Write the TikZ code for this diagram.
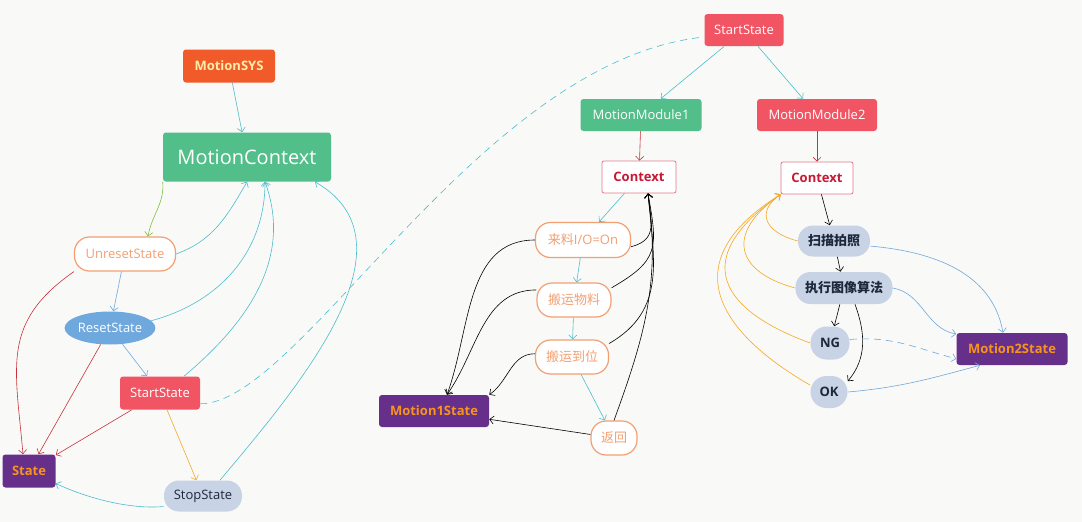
\documentclass[tikz,border=0pt]{standalone}
\usepackage{fontspec}
\setmainfont{Open Sans}
\newfontfamily\cjk{Noto Sans CJK SC}
\usepackage{tikz}
\usetikzlibrary{%
  shapes.geometric,%
  arrows.meta%
}
\definecolor{cBg}{RGB}{249,249,247}
\definecolor{cSys}{RGB}{241,90,41}
\definecolor{cSysText}{RGB}{255,238,170}
\definecolor{cGreen}{RGB}{82,190,138}
\definecolor{cRed}{RGB}{241,85,100}
\definecolor{cPurple}{RGB}{102,48,138}
\definecolor{cOrange}{RGB}{247,148,29}
\definecolor{cPeach}{RGB}{242,160,115}
\definecolor{cPink}{RGB}{226,120,135}
\definecolor{cCrimson}{RGB}{200,24,50}
\definecolor{cGray}{RGB}{200,211,230}
\definecolor{cInk}{RGB}{30,40,60}
\definecolor{cBlue}{RGB}{111,168,220}
\definecolor{lCyan}{RGB}{75,190,205}
\definecolor{lGreen}{RGB}{125,194,66}
\definecolor{lRed}{RGB}{200,50,60}
\definecolor{lOrange}{RGB}{247,168,35}
\definecolor{lBlue}{RGB}{111,168,220}

\begin{document}
\begin{tikzpicture}[x=1pt,y=1pt,line width=0.6pt,
  >={Straight Barb[length=4pt,width=8pt]},
  every node/.style={inner sep=0pt,font=\fontsize{13}{15}\selectfont},
  box/.style={rectangle,rounded corners=3pt,minimum height=32pt},
  redbox/.style={box,fill=cRed,text=white},
  greenbox/.style={box,fill=cGreen,text=white},
  purplebox/.style={box,fill=cPurple,text=cOrange,
    font=\fontsize{13}{15}\selectfont\bfseries},
  ctxbox/.style={box,rounded corners=2pt,draw=cPink,fill=white,text=cCrimson,
    line width=0.8pt,font=\fontsize{13}{15}\selectfont\bfseries},
  orangepill/.style={rectangle,rounded corners=15pt,draw=cPeach,fill=white,
    text=cPeach,line width=1.2pt,minimum height=34pt},
  graypill/.style={rectangle,rounded corners=15pt,fill=cGray,text=cInk,
    minimum height=32pt,font=\fontsize{13}{15}\selectfont\bfseries},
  dashline/.style={dash pattern=on 7pt off 5pt}
]
\useasboundingbox (0,0) rectangle (1082,-522);
\fill[cBg] (0,0) rectangle (1082,-522);

% left part
\node[box,fill=cSys,text=cSysText,minimum width=92pt,minimum height=33pt,
  font=\fontsize{13}{15}\selectfont\bfseries] (sys) at (229,-66) {MotionSYS};
\node[greenbox,minimum width=168pt,minimum height=49pt,
  font=\fontsize{20}{24}\selectfont] (ctx) at (247,-157) {MotionContext};
\node[orangepill,minimum width=101pt] (uns) at (125,-254) {UnresetState};
\node[ellipse,fill=cBlue,text=white,minimum width=85pt,minimum height=33pt]
  (rst) at (110,-328) {ResetState};
\node[redbox,minimum width=80pt,minimum height=33pt] (sl) at (160,-393) {StartState};
\node[purplebox,minimum width=53pt,minimum height=33pt] (st) at (29,-471) {State};
\node[graypill,minimum width=78pt,minimum height=31pt,
  font=\fontsize{13}{15}\selectfont] (stop) at (203,-496) {StopState};

% middle part
\node[redbox,minimum width=79pt] (ts) at (744,-30) {StartState};
\node[greenbox,minimum width=121pt] (mm1) at (641,-115) {MotionModule1};
\node[redbox,minimum width=120pt] (mm2) at (817,-115) {MotionModule2};
\node[ctxbox,minimum width=74pt] (c1) at (639,-177) {Context};
\node[ctxbox,minimum width=72pt] (c2) at (817,-178) {Context};
\node[orangepill,minimum width=95pt,minimum height=35pt] (lai) at (583,-240)
  {{\cjk 来料}I/O=On};
\node[orangepill,minimum width=74pt] (by) at (574,-300) {\cjk 搬运物料};
\node[orangepill,minimum width=73pt] (dw) at (572,-357) {\cjk 搬运到位};
\node[orangepill,minimum width=46pt] (fh) at (614,-438) {\cjk 返回};
\node[purplebox,minimum width=110pt] (m1) at (434,-411) {Motion1State};

% right part
\node[graypill,minimum width=72pt,minimum height=31pt] (scan) at (834,-241)
  {\cjk\bfseries 扫描拍照};
\node[graypill,minimum width=97pt] (algo) at (844,-288) {\cjk\bfseries 执行图像算法};
\node[graypill,minimum width=39pt,minimum height=33pt,rounded corners=16pt]
  (ng) at (830,-343) {NG};
\node[graypill,minimum width=37pt,rounded corners=16pt] (ok) at (829,-392) {OK};
\node[purplebox,minimum width=111pt] (m2) at (1012,-349) {Motion2State};

\path[->,lCyan] (sys) edge (ctx)
          (uns.east) edge[out=20,in=-120] (ctx.south)
          (rst.10) edge[out=15,in=-90] ([xshift=18pt]ctx.south)
          ([xshift=24pt]sl.north) edge[out=40,in=-70] ([xshift=18pt]ctx.south)
          ([xshift=17pt]stop.north) edge[out=50,in=-30] ([xshift=68pt]ctx.south)
          (stop.195) edge[out=185,in=-25,looseness=0.8] (st.-25)
          (ts) edge (mm1)
          (ts) edge (mm2)
          (c1) edge (lai)
          (lai) edge (by)
          (by) edge (dw)
          (dw) edge (fh)
;
\path[->,lGreen] (ctx.south west) edge[out=-85,in=80] ([xshift=23pt]uns.north);
\path[->,lBlue] (uns) edge (rst)
          (rst) edge (sl)
;
\path[->,lRed] (uns.south west) edge[out=215,in=95,looseness=1.2] ([xshift=-6pt]st.north)
          (rst) edge (st)
          (sl) edge (st)
          (mm1) edge (c1)
          (mm2) edge (c2)
;
\path[->,lOrange] (sl) edge (stop);
\draw[lCyan,dashline] (sl.-15) .. controls +(100,0) and +(-225,-23) .. (ts.190);

% module 1
\path[->,black] (lai.-8) edge[out=15,in=-85,looseness=1.3] ([xshift=9pt]c1.south)
          (by.18) edge[out=30,in=-80,looseness=1.4] ([xshift=9pt]c1.south)
          (dw.20) edge[out=30,in=-85,looseness=1.1] ([xshift=9pt]c1.south)
          (fh.north) edge[out=70,in=-82] ([xshift=9pt]c1.south)
          (lai.west) edge[out=180,in=70] ([xshift=13pt]m1.north)
          (by.165) edge[out=180,in=55] ([xshift=13pt]m1.north)
          (dw.175) edge[out=180,in=35] (m1.north east)
          (fh) edge (m1)
;

% module 2
\path[->,black] (c2) edge (scan)
          (scan) edge (algo)
          (algo) edge (ng)
          ([xshift=11pt]algo.south) edge[out=-70,in=50] (ok.30)
;
\path[->,lOrange]
  (scan.west) edge[out=165,in=215,out distance=35pt,in distance=30pt] (c2.south west)
  (algo.west) edge[out=165,in=215,out distance=60pt,in distance=70pt] (c2.south west)
  (ng.west) edge[out=160,in=215,out distance=80pt,in distance=125pt] (c2.south west)
  (ok.160) edge[out=150,in=212,out distance=103pt,in distance=130pt] (c2.south west)
;
\path[->,lBlue] (scan.-8) edge[out=-5,in=100] ([xshift=-9pt]m2.north)
          (algo.east) edge[out=-10,in=170] (m2.165)
          (ng.10) edge[out=5,in=165,dashline] (m2.190)
          (ok.east) edge[out=5,in=195] ([xshift=-32pt]m2.south)
;
\end{tikzpicture}
\end{document}
